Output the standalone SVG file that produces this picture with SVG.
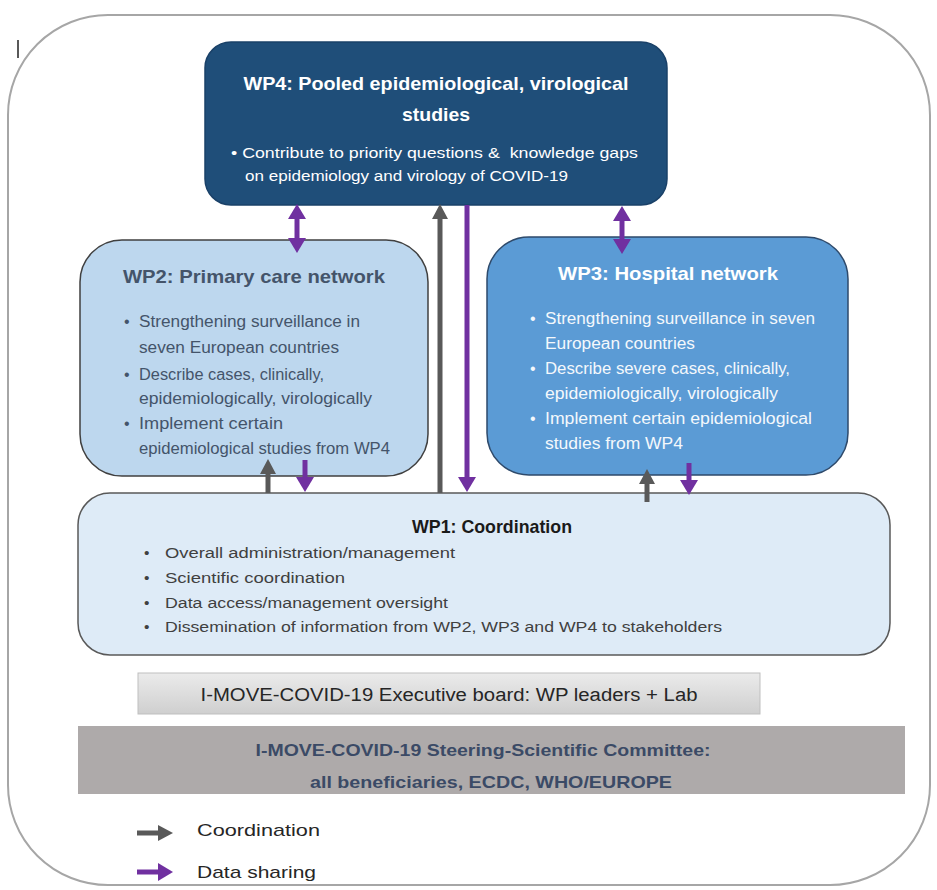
<svg xmlns="http://www.w3.org/2000/svg" width="937" height="890" viewBox="0 0 937 890">
<style>
text{font-family:"Liberation Sans","Arial",sans-serif}
.t{font-weight:bold;text-anchor:middle}
.w{fill:#ffffff}
.b2{fill:#44546a;font-size:16px}
.b3{fill:#f4f8fc;font-size:16px}
.b1{fill:#404040;font-size:15.5px}
.cg{stroke:#595959;stroke-width:5;fill:none}
.cp{stroke:#7030a0;stroke-width:5;fill:none}
</style>
<defs>
<marker id="hg" markerWidth="16" markerHeight="16" refX="0" refY="8" orient="auto-start-reverse" markerUnits="userSpaceOnUse"><path d="M0,0 L15,8 L0,16 z" fill="#595959"/></marker>
<marker id="hp" markerWidth="18" markerHeight="18" refX="0" refY="9" orient="auto-start-reverse" markerUnits="userSpaceOnUse"><path d="M0,0 L15,9 L0,18 z" fill="#7030a0"/></marker>
<linearGradient id="gx" x1="0" y1="0" x2="0" y2="1"><stop offset="0" stop-color="#ebebeb"/><stop offset="1" stop-color="#cfcfcf"/></linearGradient>
</defs>
<rect x="0" y="0" width="937" height="890" fill="#ffffff"/>
<rect id="frame" x="8" y="15" width="922" height="870" rx="100" ry="100" fill="none" stroke="#a6a6a6" stroke-width="2"/>
<line x1="18" y1="40" x2="18" y2="58" stroke="#222" stroke-width="1.5"/>

<g id="wp4">
<rect x="205" y="42" width="462" height="163" rx="26" fill="#1f4e79" stroke="#1a4168" stroke-width="1.5"/>
<text class="t w" x="436" y="90" font-size="19" textLength="385" lengthAdjust="spacingAndGlyphs">WP4: Pooled epidemiological, virological</text>
<text class="t w" x="436" y="121" font-size="19" textLength="68" lengthAdjust="spacingAndGlyphs">studies</text>
<text class="w" x="231" y="158" font-size="15.5" xml:space="preserve" textLength="407" lengthAdjust="spacingAndGlyphs">• Contribute to priority questions &amp;  knowledge gaps</text>
<text class="w" x="245" y="181" font-size="15.5" textLength="323" lengthAdjust="spacingAndGlyphs">on epidemiology and virology of COVID-19</text>
</g>

<g id="wp2">
<rect x="80" y="240" width="348" height="236" rx="42" fill="#bdd7ee" stroke="#404040" stroke-width="1.5"/>
<text x="123" y="283" font-size="19" font-weight="bold" fill="#44546a" textLength="262" lengthAdjust="spacingAndGlyphs">WP2: Primary care network</text>
<text class="b2" x="124" y="327">•</text>
<text class="b2" x="139" y="327" textLength="221" lengthAdjust="spacingAndGlyphs">Strengthening surveillance in</text>
<text class="b2" x="139" y="353" textLength="200" lengthAdjust="spacingAndGlyphs">seven European countries</text>
<text class="b2" x="124" y="380">•</text>
<text class="b2" x="139" y="380" textLength="185" lengthAdjust="spacingAndGlyphs">Describe cases, clinically,</text>
<text class="b2" x="139" y="404" textLength="233" lengthAdjust="spacingAndGlyphs">epidemiologically, virologically</text>
<text class="b2" x="124" y="429">•</text>
<text class="b2" x="139" y="429" textLength="144" lengthAdjust="spacingAndGlyphs">Implement certain</text>
<text class="b2" x="139" y="454" textLength="251" lengthAdjust="spacingAndGlyphs">epidemiological studies from WP4</text>
</g>

<g id="wp3">
<rect x="487" y="237" width="361" height="238" rx="42" fill="#5b9bd5" stroke="#2e4a6b" stroke-width="1.5"/>
<text class="t w" x="668" y="280" font-size="19" textLength="220" lengthAdjust="spacingAndGlyphs">WP3: Hospital network</text>
<text class="b3" x="530" y="324">•</text>
<text class="b3" x="545" y="324" textLength="270" lengthAdjust="spacingAndGlyphs">Strengthening surveillance in seven</text>
<text class="b3" x="545" y="349" textLength="150" lengthAdjust="spacingAndGlyphs">European countries</text>
<text class="b3" x="530" y="374">•</text>
<text class="b3" x="545" y="374" textLength="245" lengthAdjust="spacingAndGlyphs">Describe severe cases, clinically,</text>
<text class="b3" x="545" y="399" textLength="233" lengthAdjust="spacingAndGlyphs">epidemiologically, virologically</text>
<text class="b3" x="530" y="424">•</text>
<text class="b3" x="545" y="424" textLength="267" lengthAdjust="spacingAndGlyphs">Implement certain epidemiological</text>
<text class="b3" x="545" y="449" textLength="138" lengthAdjust="spacingAndGlyphs">studies from WP4</text>
</g>

<g id="wp1">
<rect x="78" y="493" width="812" height="162" rx="32" fill="#deebf7" stroke="#595959" stroke-width="1.5"/>
<text class="t" x="492" y="533" font-size="19" fill="#1a1a1a" textLength="160" lengthAdjust="spacingAndGlyphs">WP1: Coordination</text>
<text class="b1" x="144" y="558">•</text>
<text class="b1" x="165" y="558" textLength="290" lengthAdjust="spacingAndGlyphs">Overall administration/management</text>
<text class="b1" x="144" y="583">•</text>
<text class="b1" x="165" y="583" textLength="180" lengthAdjust="spacingAndGlyphs">Scientific coordination</text>
<text class="b1" x="144" y="608">•</text>
<text class="b1" x="165" y="608" textLength="283" lengthAdjust="spacingAndGlyphs">Data access/management oversight</text>
<text class="b1" x="144" y="632">•</text>
<text class="b1" x="165" y="632" textLength="557" lengthAdjust="spacingAndGlyphs">Dissemination of information from WP2, WP3 and WP4 to stakeholders</text>
</g>

<g id="exec">
<rect x="138" y="673" width="622" height="41" fill="url(#gx)" stroke="#bfbfbf" stroke-width="1"/>
<text x="449" y="701" font-size="18" fill="#262626" text-anchor="middle" textLength="497" lengthAdjust="spacingAndGlyphs">I-MOVE-COVID-19 Executive board: WP leaders + Lab</text>
</g>

<g id="steering">
<rect x="78" y="726" width="827" height="68" fill="#aeaaaa"/>
<text class="t" x="483" y="756" font-size="17" fill="#3b4a66" textLength="455" lengthAdjust="spacingAndGlyphs">I-MOVE-COVID-19 Steering-Scientific Committee:</text>
<text class="t" x="491" y="788" font-size="17" fill="#3b4a66" textLength="362" lengthAdjust="spacingAndGlyphs">all beneficiaries, ECDC, WHO/EUROPE</text>
</g>

<g id="connectors">
<line class="cp" x1="297" y1="219" x2="297" y2="238" marker-start="url(#hp)" marker-end="url(#hp)"/>
<line class="cp" x1="622" y1="221" x2="622" y2="239" marker-start="url(#hp)" marker-end="url(#hp)"/>
<line class="cg" x1="440" y1="493" x2="440" y2="219" marker-end="url(#hg)"/>
<line class="cp" x1="467" y1="205" x2="467" y2="477" marker-end="url(#hp)"/>
<line class="cg" x1="268" y1="493" x2="268" y2="474" marker-end="url(#hg)"/>
<line class="cp" x1="305" y1="460" x2="305" y2="477" marker-end="url(#hp)"/>
<line class="cg" x1="647" y1="502" x2="647" y2="484" marker-end="url(#hg)"/>
<line class="cp" x1="689" y1="463" x2="689" y2="480" marker-end="url(#hp)"/>
</g>

<g id="legend">
<line class="cg" x1="137" y1="833" x2="158" y2="833" marker-end="url(#hg)"/>
<text x="197" y="836" font-size="17" fill="#262626" textLength="123" lengthAdjust="spacingAndGlyphs">Coordination</text>
<line class="cp" x1="137" y1="872" x2="158" y2="872" marker-end="url(#hp)"/>
<text x="197" y="878" font-size="17" fill="#262626" textLength="119" lengthAdjust="spacingAndGlyphs">Data sharing</text>
</g>
</svg>
